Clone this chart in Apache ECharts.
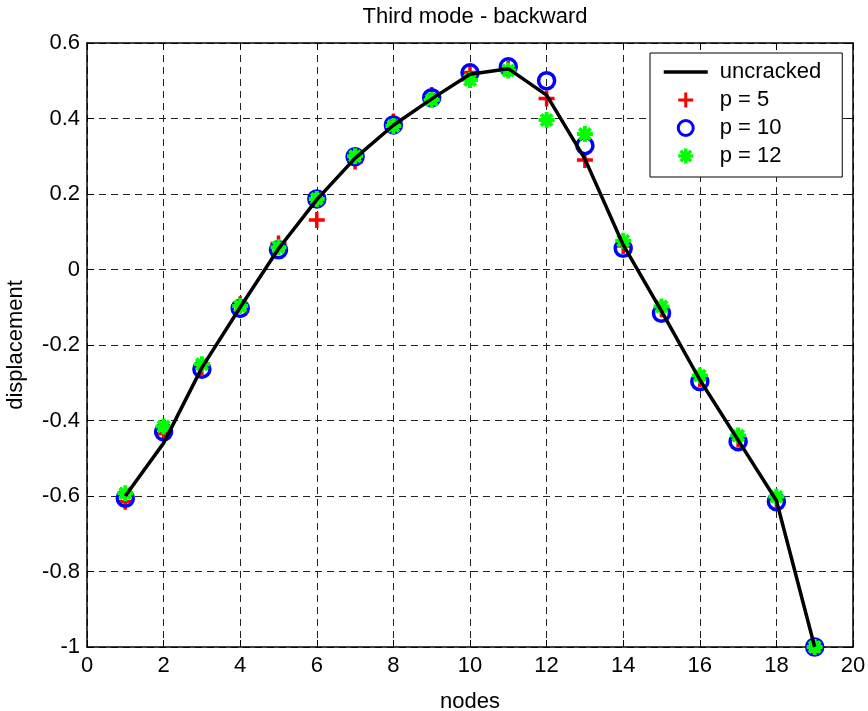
<!DOCTYPE html>
<html>
<head>
<meta charset="utf-8">
<script src="https://cdn.jsdelivr.net/npm/echarts@6/dist/echarts.min.js"></script>
<style>
  html, body { margin: 0; padding: 0; background: #fff; }
  #chart { width: 868px; height: 711px; }
</style>
</head>
<body>
<div id="chart"></div>
<script>
const nodes = [1, 2, 3, 4, 5, 6, 7, 8, 9, 10, 11, 12, 13, 14, 15, 16, 17, 18, 19];
const uncracked = [-0.600, -0.460, -0.260, -0.100, 0.055, 0.185, 0.295, 0.382, 0.452, 0.517, 0.532, 0.462, 0.293, 0.065, -0.110, -0.292, -0.452, -0.612, -1.000];
const p5 = [-0.615, -0.435, -0.258, -0.092, 0.069, 0.131, 0.286, 0.392, 0.462, 0.522, 0.532, 0.453, 0.290, 0.062, -0.105, -0.290, -0.450, -0.610, -1.000];
const p10 = [-0.606, -0.430, -0.264, -0.103, 0.052, 0.187, 0.299, 0.383, 0.455, 0.521, 0.537, 0.500, 0.328, 0.056, -0.116, -0.297, -0.456, -0.615, -1.000];
const p12 = [-0.593, -0.416, -0.251, -0.097, 0.059, 0.187, 0.300, 0.380, 0.449, 0.502, 0.527, 0.396, 0.359, 0.076, -0.098, -0.281, -0.440, -0.602, -1.000];

const pair = arr => nodes.map((n, i) => [n, arr[i]]);

const font = 'Liberation Sans, Arial, Helvetica, sans-serif';
const plusPath = 'path://M0,-1L0,1M-1,0L1,0';
const starPath = 'path://M0,-1L0,1M-1,0L1,0M-0.7,-0.7L0.7,0.7M-0.7,0.7L0.7,-0.7';

const chart = echarts.init(document.getElementById('chart'));

const gridDash = { color: '#222', width: 1, type: [7, 5] };
const boxAxis = {
  axisLine: { show: true, onZero: false, lineStyle: { color: '#000', width: 1.5 } },
  axisTick: { show: true, inside: true, length: 7, lineStyle: { color: '#000' } },
  axisLabel: { show: false },
  splitLine: { show: false }
};

const option = {
  backgroundColor: '#fff',
  animation: false,
  title: {
    text: 'Third mode - backward',
    left: 470,
    textAlign: 'center',
    top: 1,
    textStyle: { fontFamily: font, fontSize: 22, fontWeight: 'normal', color: '#000' }
  },
  legend: {
    orient: 'vertical',
    left: 650,
    top: 53,
    padding: [8, 21, 10, 12],
    itemGap: 6,
    itemWidth: 44,
    itemHeight: 15,
    borderColor: '#000',
    borderWidth: 1,
    backgroundColor: '#fff',
    textStyle: { fontFamily: font, fontSize: 22, lineHeight: 22, color: '#000', padding: [0, 0, 0, 7] },
    data: [
      { name: 'uncracked', itemStyle: { opacity: 0 }, lineStyle: { width: 3.5 } },
      { name: 'p = 5', itemStyle: { borderWidth: 3, opacity: 1 } },
      { name: 'p = 10', itemStyle: { borderWidth: 3, opacity: 1 } },
      { name: 'p = 12', itemStyle: { borderWidth: 3.5, opacity: 1 } }
    ]
  },
  grid: { left: 87, right: 15, top: 43, bottom: 64, outerBoundsMode: 'none', containLabel: false },
  xAxis: [
    {
      type: 'value',
      min: 0, max: 20, interval: 2,
      name: 'nodes',
      nameLocation: 'middle',
      nameGap: 44,
      nameTextStyle: { fontFamily: font, fontSize: 22, color: '#000' },
      axisLine: { show: true, onZero: false, lineStyle: { color: '#000', width: 1.5 } },
      axisTick: { show: true, inside: true, length: 7, lineStyle: { color: '#000' } },
      axisLabel: { fontFamily: font, fontSize: 22, color: '#000', margin: 8 },
      splitLine: { show: true, lineStyle: gridDash }
    },
    Object.assign({ type: 'value', position: 'top', min: 0, max: 20, interval: 2 }, boxAxis)
  ],
  yAxis: [
    {
      type: 'value',
      min: -1, max: 0.6, interval: 0.2,
      name: 'displacement',
      nameLocation: 'middle',
      nameGap: 60,
      nameTextStyle: { fontFamily: font, fontSize: 22, color: '#000' },
      axisLine: { show: true, onZero: false, lineStyle: { color: '#000', width: 1.5 } },
      axisTick: { show: true, inside: true, length: 7, lineStyle: { color: '#000' } },
      axisLabel: {
        fontFamily: font, fontSize: 22, color: '#000', margin: 7,
        formatter: v => String(Math.round(v * 10) / 10)
      },
      splitLine: { show: true, lineStyle: gridDash }
    },
    Object.assign({ type: 'value', position: 'right', min: -1, max: 0.6, interval: 0.2 }, boxAxis)
  ],
  series: [
    {
      name: 'uncracked',
      type: 'line',
      data: pair(uncracked),
      symbol: 'none',
      lineStyle: { color: '#000', width: 3.5 },
      itemStyle: { color: '#000' }
    },
    {
      name: 'p = 5',
      type: 'scatter',
      data: pair(p5),
      symbol: plusPath,
      symbolSize: 16,
      itemStyle: { color: 'none', borderColor: '#ff0000', borderWidth: 3.5, opacity: 1 }
    },
    {
      name: 'p = 10',
      type: 'scatter',
      data: pair(p10),
      symbol: 'circle',
      symbolSize: 16,
      itemStyle: { color: 'none', borderColor: '#0000ff', borderWidth: 3.5, opacity: 1 }
    },
    {
      name: 'p = 12',
      type: 'scatter',
      data: pair(p12),
      symbol: starPath,
      symbolSize: 16,
      itemStyle: { color: 'none', borderColor: '#00ff00', borderWidth: 4, opacity: 1 }
    }
  ]
};

chart.setOption(option);
</script>
</body>
</html>
